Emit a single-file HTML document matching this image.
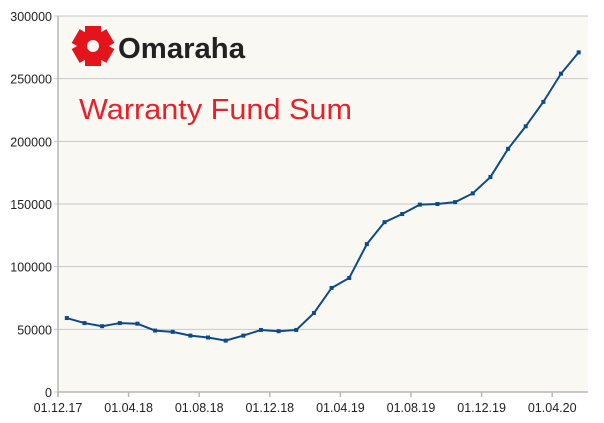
<!DOCTYPE html>
<html><head><meta charset="utf-8"><style>
body{margin:0;background:#fff;font-family:"Liberation Sans",sans-serif;}
svg{display:block}
</style></head><body>
<svg width="604" height="423" id="chart">
<rect x="58" y="16" width="530" height="376" fill="#f9f8f3"/>
<g id="grid"></g>
<g id="axes"></g>
<g>
 <g transform="translate(93,46)">
  <g fill="#e3141b">
   <rect x="-8" y="-20" width="16" height="12" transform="rotate(0)"/>
   <rect x="-8" y="-20" width="16" height="12" transform="rotate(60)"/>
   <rect x="-8" y="-20" width="16" height="12" transform="rotate(120)"/>
   <rect x="-8" y="-20" width="16" height="12" transform="rotate(180)"/>
   <rect x="-8" y="-20" width="16" height="12" transform="rotate(240)"/>
   <rect x="-8" y="-20" width="16" height="12" transform="rotate(300)"/>
   <circle r="14"/>
  </g>
  <circle r="6" fill="#f9f8f3"/>
 </g>
 <text x="118" y="58" font-size="29" font-weight="bold" fill="#222" textLength="127" lengthAdjust="spacingAndGlyphs">Omaraha</text>
</g>
<text x="79" y="119" font-size="29" fill="#e8202a" textLength="273" lengthAdjust="spacingAndGlyphs">Warranty Fund Sum</text>
<g id="series"></g>
</svg>
<script>
const months = ["12.17","01.18","02.18","03.18","04.18","05.18","06.18","07.18","08.18","09.18","10.18","11.18","12.18","01.19","02.19","03.19","04.19","05.19","06.19","07.19","08.19","09.19","10.19","11.19","12.19","01.20","02.20","03.20","04.20","05.20"];
const values = [59000,55000,52500,55000,54500,49000,48000,45000,43500,41000,45000,49500,48500,49500,63000,83000,91000,118000,135500,142000,149500,150000,151500,158500,171500,194000,212000,231500,254000,271000];
const yTicks = [0,50000,100000,150000,200000,250000,300000];
const xTickLabels = ["01.12.17","01.04.18","01.08.18","01.12.18","01.04.19","01.08.19","01.12.19","01.04.20"];

const NS="http://www.w3.org/2000/svg";
const x0=58,x1=588,yTop=16,yBot=392,monthW=17.65;
const yS=v=>yBot-(v/300000)*(yBot-yTop);
const xM=i=>x0+monthW*(i+0.5);
const xT=i=>x0+monthW*4*i;
function mk(t,a,p){const e=document.createElementNS(NS,t);for(const k in a)e.setAttribute(k,a[k]);p.appendChild(e);return e;}
const grid=document.getElementById('grid'),axes=document.getElementById('axes'),ser=document.getElementById('series');
yTicks.forEach(v=>{
 const l=mk('line',{x1:x0-4,x2:x1,y1:yS(v),y2:yS(v),stroke:'#c8c8c8','stroke-width':1},grid);
 
 
 const t=mk('text',{x:x0-6,y:yS(v)+5,'text-anchor':'end','font-size':12.5,fill:'#222'},axes);
 t.textContent=v;
 
 
});
const ya=mk('line',{x1:x0,x2:x0,y1:yTop,y2:yBot+5,stroke:'#b8b8b8','stroke-width':1.5},axes);


const xa=mk('line',{x1:x0,x2:x1,y1:yBot,y2:yBot,stroke:'#b8b8b8','stroke-width':1.5},axes);


xTickLabels.forEach((s,i)=>{
 const tk=mk('line',{x1:xT(i),x2:xT(i),y1:yBot,y2:yBot+5,stroke:'#b8b8b8','stroke-width':1.5},axes);
 
 
 const t=mk('text',{x:xT(i),y:yBot+20,'text-anchor':'middle','font-size':12.5,fill:'#222'},axes);
 t.textContent=s;
 
 
});
const pl=mk('polyline',{points:values.map((v,i)=>xM(i)+','+yS(v)).join(' '),fill:'none',stroke:'#0d4a8a','stroke-width':2},ser);


values.forEach((v,i)=>{
 const r=mk('rect',{x:xM(i)-2,y:yS(v)-2,width:4,height:4,fill:'#0d4a8a'},ser);
 
 
});
</script>
</body></html>
